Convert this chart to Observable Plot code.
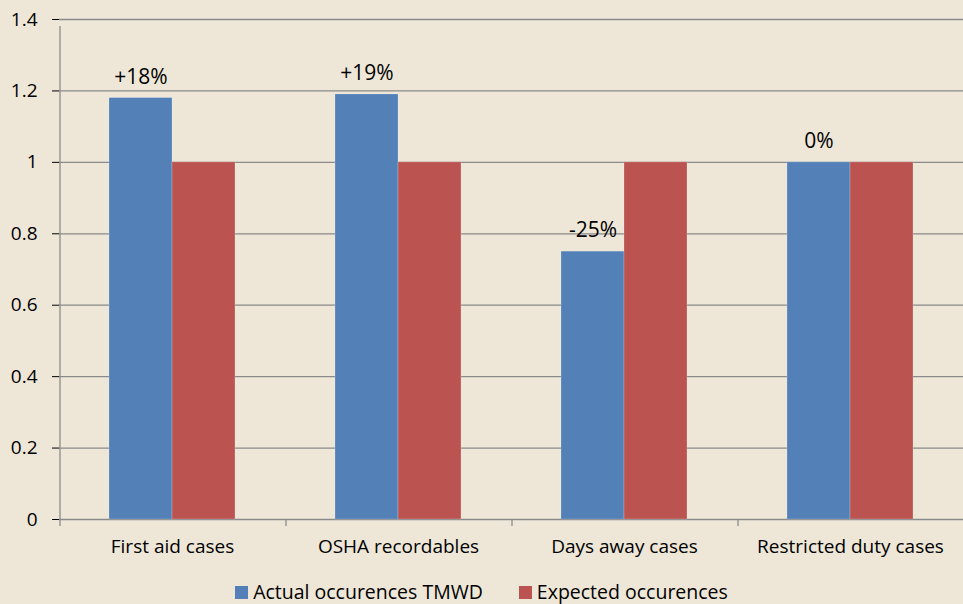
<!DOCTYPE html>
<html>
<head>
<meta charset="utf-8">
<script src="https://cdn.jsdelivr.net/npm/d3@7"></script>
<script src="https://cdn.jsdelivr.net/npm/@observablehq/plot@0.6"></script>
<style>
  html, body { margin: 0; padding: 0; background: #EEE7D8; }
  body { width: 963px; height: 604px; overflow: hidden; font-family: "Open Sans", sans-serif; }
  #legend { height: 24px; display: flex; justify-content: center; align-items: center; font-size: 19.5px; color: #000; line-height: 24px; }
  #legend .item { display: flex; align-items: center; margin: 0 18px; }
  #legend .sw { width: 13px; height: 13px; margin-right: 5px; display: inline-block; }
</style>
</head>
<body>
<div id="chart"></div>
<div id="legend"></div>
<script>
const categories = ["First aid cases", "OSHA recordables", "Days away cases", "Restricted duty cases"];
const seriesNames = ["Actual occurences TMWD", "Expected occurences"];
const actual = [1.18, 1.19, 0.75, 1.0];
const expected = [1.0, 1.0, 1.0, 1.0];
const changeLabels = ["+18%", "+19%", "-25%", "0%"];
const yTicks = [0, 0.2, 0.4, 0.6, 0.8, 1, 1.2, 1.4];
const yTickLabels = ["0", "0.2", "0.4", "0.6", "0.8", "1", "1.2", "1.4"];
const colors = ["#5280B7", "#BB5451"];

const data = categories.flatMap((c, i) => [
  {category: c, series: seriesNames[0], value: actual[i], label: changeLabels[i]},
  {category: c, series: seriesNames[1], value: expected[i], label: null}
]);
const actualRows = data.filter(d => d.series === seriesNames[0]);

const gridColor = "#8A8A8A";

const chart = Plot.plot({
  width: 963,
  height: 580,
  marginLeft: 59,
  marginRight: 0,
  marginTop: 19,
  marginBottom: 61,
  style: {background: "transparent", fontFamily: "'Open Sans', sans-serif", fontSize: "19px", color: "#000", overflow: "visible"},
  fx: {domain: categories, padding: 0, label: null, axis: "bottom", tickSize: 0, tickPadding: 20},
  x: {domain: seriesNames, paddingInner: 0, paddingOuter: 0.766, axis: null},
  y: {domain: [0, 1.4], ticks: yTicks, tickFormat: d => yTickLabels[yTicks.indexOf(d)], label: null, tickSize: 7, tickPadding: 15, line: false},
  color: {domain: seriesNames, range: colors},
  marks: [
    Plot.gridY(yTicks, {stroke: gridColor, strokeOpacity: 1, strokeWidth: 1.3}),
    Plot.barY(data, {fx: "category", x: "series", y: "value", fill: "series", stroke: "#ffffff", strokeOpacity: 0.25, strokeWidth: 0.8}),
    Plot.text(actualRows, {fx: "category", x: "series", y: "value", text: "label", dy: -21, fontSize: 21, fill: "#000"}),
    Plot.ruleX(actualRows, {fx: "category", x: "series", dx: -81, y1: 0, y2: 0, insetBottom: -7, stroke: gridColor, strokeWidth: 1.3}),
    Plot.ruleX(actualRows.slice(0, 1), {fx: "category", x: "series", dx: -81, y1: 0, y2: 1.4, insetBottom: -7, stroke: gridColor, strokeWidth: 1.3})
  ]
});
document.getElementById("chart").appendChild(chart);

const legend = document.getElementById("legend");
seriesNames.forEach((name, i) => {
  const item = document.createElement("div");
  item.className = "item";
  const sw = document.createElement("span");
  sw.className = "sw";
  sw.style.background = colors[i];
  const t = document.createElement("span");
  t.textContent = name;
  item.appendChild(sw);
  item.appendChild(t);
  legend.appendChild(item);
});
</script>
</body>
</html>
